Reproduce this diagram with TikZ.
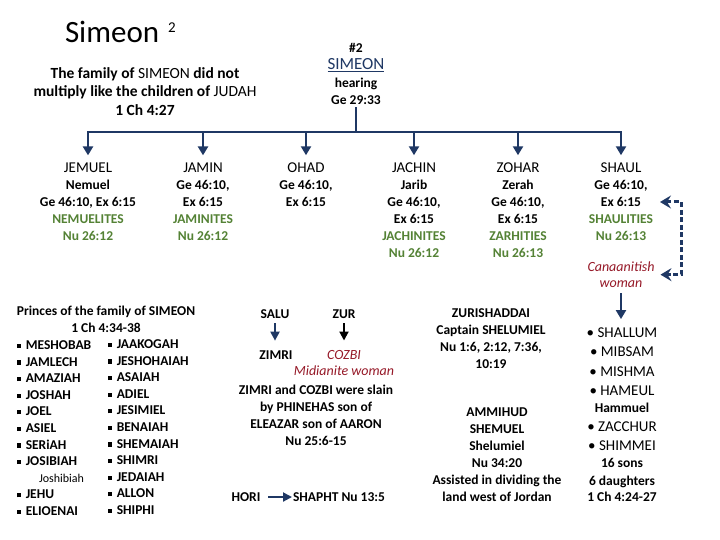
\documentclass[tikz,border=0pt]{standalone}
\usepackage{fontspec}
\setmainfont{Carlito}
\usetikzlibrary{arrows.meta}
\definecolor{navy}{RGB}{31,56,100}
\definecolor{grn}{RGB}{84,130,53}
\definecolor{dred}{RGB}{150,25,40}
\newcommand{\sqb}{\rule[0.12em]{0.3em}{0.3em}\hspace{0.35em}}
\begin{document}
\begin{tikzpicture}[x=1pt,y=-1pt,
  every node/.style={inner sep=0pt,outer sep=0pt},
  bt/.style={font=\fontsize{13.5}{17}\selectfont\bfseries,align=center},
  nm/.style={font=\fontsize{15}{17}\selectfont},
  lst/.style={font=\fontsize{15}{17}\selectfont},
  plist/.style={font=\fontsize{13.5}{16.6}\selectfont\bfseries,align=left,anchor=north west},
  wom/.style={font=\fontsize{14}{15.5}\selectfont\itshape,text=dred,align=center},
  trunk/.style={draw=navy,line width=2.6pt},
  arr/.style={draw=navy,line width=2.6pt,-{Triangle[width=10pt,length=9pt]}},
  sarr/.style={line width=2pt,-{Triangle[width=9pt,length=9pt]}},
  dsh/.style={draw=navy,line width=3pt,dash pattern=on 5pt off 2.5pt,
    {Stealth[length=11pt,width=13pt,inset=4pt]}-{Stealth[length=11pt,width=13pt,inset=4pt]}}]
\useasboundingbox[fill=white] (0,0) rectangle (720,540);

% title and intro
\node[font=\fontsize{31}{36}\selectfont,anchor=base west] (title) at (65,43)
  {Simeon\hspace{9pt}\raisebox{10pt}{\fontsize{15}{18}\selectfont 2}};
\node[font=\fontsize{15.5}{18.5}\selectfont\bfseries,align=center,anchor=north] (intro) at (145,67.5)
  {The family of \textmd{SIMEON} did not\\multiply like the children of \textmd{JUDAH}\\1 Ch 4:27};

% SIMEON
\node[bt,anchor=base] (num) at (356,52.3) {\#2};
\node[font=\fontsize{17}{18}\selectfont,text=navy,anchor=base] (sim) at (356,69.2) {SIMEON};
\draw[navy,line width=1.2pt] ([yshift=-2.4pt]sim.south west) -- ([yshift=-2.4pt]sim.south east);
\node[bt,anchor=north] (hear) at (356,77.6) {hearing\\Ge 29:33};
\coordinate (bar) at (356,132);
\draw[trunk,shorten <=3pt] (hear.south) -- (bar);

% children
\node[nm,anchor=base] (jemuel) at (88,173) {JEMUEL};
\node[nm,anchor=base] (jamin) at (203,173) {JAMIN};
\node[nm,anchor=base] (ohad) at (306,173) {OHAD};
\node[nm,anchor=base] (jachin) at (414,173) {JACHIN};
\node[nm,anchor=base] (zohar) at (518,173) {ZOHAR};
\node[nm,anchor=base] (shaul) at (621,173) {SHAUL};
\foreach \c in {jemuel,jamin,ohad,jachin,zohar,shaul}
  \draw[arr,shorten >=8pt] (bar) -| (\c.north);

\node[bt,anchor=north] (jemD) at (88,180)
  {Nemuel\\Ge 46:10, Ex 6:15\\\textcolor{grn}{NEMUELITES}\\\textcolor{grn}{Nu 26:12}};
\node[bt,anchor=north] (jamD) at (203,180.5)
  {Ge 46:10,\\Ex 6:15\\\textcolor{grn}{JAMINITES}\\\textcolor{grn}{Nu 26:12}};
\node[bt,anchor=north] (ohaD) at (306,180.5) {Ge 46:10,\\Ex 6:15};
\node[bt,anchor=north] (jacD) at (414,180)
  {Jarib\\Ge 46:10,\\Ex 6:15\\\textcolor{grn}{JACHINITES}\\\textcolor{grn}{Nu 26:12}};
\node[bt,anchor=north] (zohD) at (518,180)
  {Zerah\\Ge 46:10,\\Ex 6:15\\\textcolor{grn}{ZARHITIES}\\\textcolor{grn}{Nu 26:13}};
\node[bt,anchor=north] (shaD) at (621,180.5)
  {Ge 46:10,\\Ex 6:15\\\textcolor{grn}{SHAULITIES}\\\textcolor{grn}{Nu 26:13}};

% Canaanitish woman and dashed bracket
\node[wom,anchor=north] (cw) at (621,262) {Canaanitish\\woman};
\coordinate (dtop) at (660,202);
\coordinate (cwE) at ([xshift=6pt]cw.east);
\draw[dsh] (dtop) -- ++(21,0) |- (cwE);

% Shaul's list
\node[lst,anchor=base] (s1) at (622,337.8) {• SHALLUM};
\node[lst,anchor=base] (s2) at (622,356.8) {• MIBSAM};
\node[lst,anchor=base] (s3) at (622,376.8) {• MISHMA};
\node[lst,anchor=base] (s4) at (622,395.8) {• HAMEUL};
\node[bt,anchor=base] (s5) at (622,412.4) {Hammuel};
\node[lst,anchor=base] (s6) at (622,431.8) {• ZACCHUR};
\node[lst,anchor=base] (s7) at (622,450.8) {• SHIMMEI};
\node[bt,anchor=base] (s8) at (622,467.4) {16 sons};
\node[bt,anchor=base] (s9) at (622,485.4) {6 daughters};
\node[bt,anchor=base] (s10) at (622,501.4) {1 Ch 4:24-27};
\draw[arr,shorten <=6pt,shorten >=9pt] (cw.south) -- (cw.south |- s1.north);

% Zurishaddai / Ammihud
\node[bt,anchor=north] (zur2) at (491,308.5)
  {ZURISHADDAI\\Captain SHELUMIEL\\Nu 1:6, 2:12, 7:36,\\10:19};
\node[bt,anchor=north] (amm) at (497,407.5)
  {AMMIHUD\\SHEMUEL\\Shelumiel\\Nu 34:20\\Assisted in dividing the\\land west of Jordan};

% middle block
\node[bt,anchor=base] (salu) at (275,318.4) {SALU};
\node[bt,anchor=base] (zur) at (344,318.4) {ZUR};
\node[bt,anchor=base] (zimri) at (276,359.4) {ZIMRI};
\node[font=\fontsize{14}{16}\selectfont\itshape,text=dred,anchor=base] (cozbi) at (344,359.6) {COZBI};
\node[font=\fontsize{14}{16}\selectfont\itshape,text=dred,anchor=base] (mid) at (344,375.5) {Midianite woman};
\draw[sarr,navy,shorten <=4.5pt,shorten >=10pt] (salu.south) -- (salu.south |- zimri.north);
\draw[sarr,black,shorten <=4.5pt,shorten >=10pt] (zur.south) -- (zur.south |- cozbi.north);
\node[bt,anchor=north] (slain) at (316,385.2)
  {ZIMRI and COZBI were slain\\by PHINEHAS son of\\ELEAZAR son of AARON\\Nu 25:6-15};
\node[bt,anchor=base] (hori) at (246,501.4) {HORI};
\node[bt,anchor=base west] (shapht) at (293,501.4) {SHAPHT Nu 13:5};
\draw[sarr,navy,shorten <=8pt,shorten >=1pt] (hori.east) -- (hori.east -| shapht.west);

% princes
\node[bt,anchor=north] (princes) at (106,306)
  {Princes of the family of SIMEON\\1 Ch 4:34-38};
\node[plist] (colA) at (17,340.7)
  {\sqb MESHOBAB\\\sqb JAMLECH\\\sqb AMAZIAH\\\sqb JOSHAH\\\sqb JOEL\\\sqb ASIEL\\\sqb SERiAH\\\sqb JOSIBIAH\\
   \hspace*{22pt}{\fontsize{12}{16.6}\selectfont\mdseries Joshibiah}\\\sqb JEHU\\\sqb ELIOENAI};
\node[plist] (colB) at (108,339.7)
  {\sqb JAAKOGAH\\\sqb JESHOHAIAH\\\sqb ASAIAH\\\sqb ADIEL\\\sqb JESIMIEL\\\sqb BENAIAH\\\sqb SHEMAIAH\\\sqb SHIMRI\\\sqb JEDAIAH\\\sqb ALLON\\\sqb SHIPHI};
\end{tikzpicture}
\end{document}
